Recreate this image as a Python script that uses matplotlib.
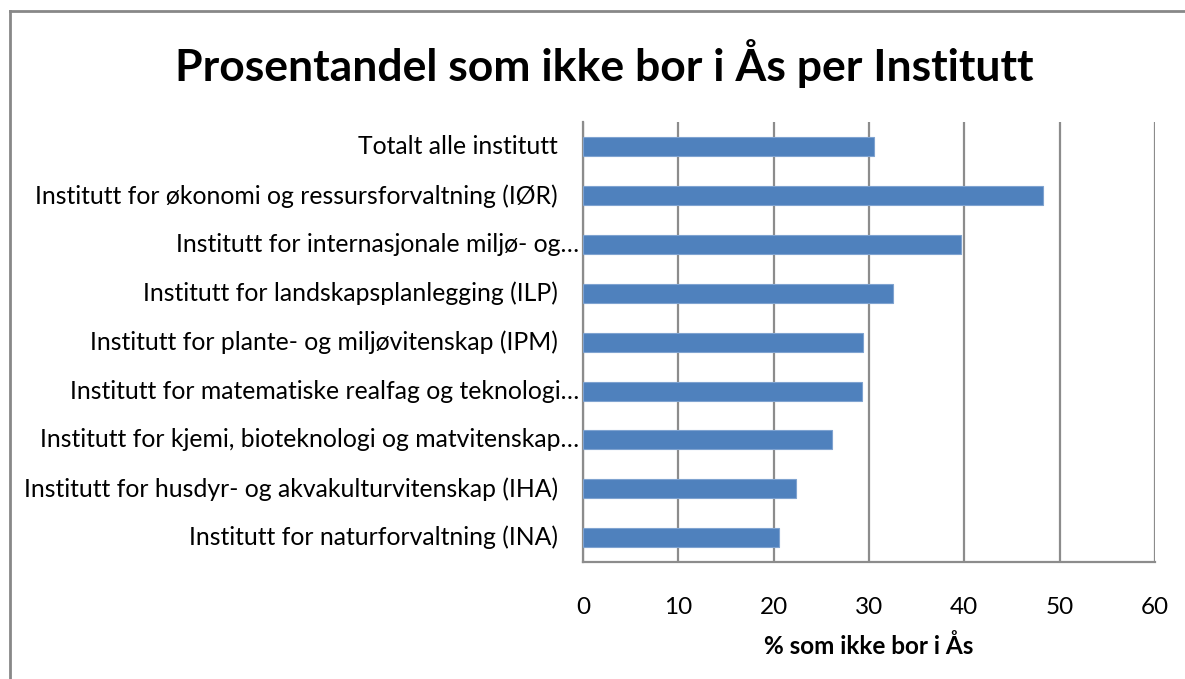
import matplotlib
matplotlib.use('Agg')
import matplotlib.pyplot as plt
from matplotlib.lines import Line2D

labels = [
    "Totalt alle institutt",
    "Institutt for økonomi og ressursforvaltning (IØR)",
    "Institutt for internasjonale miljø- og…",
    "Institutt for landskapsplanlegging (ILP)",
    "Institutt for plante- og miljøvitenskap (IPM)",
    "Institutt for matematiske realfag og teknologi…",
    "Institutt for kjemi, bioteknologi og matvitenskap…",
    "Institutt for husdyr- og akvakulturvitenskap (IHA)",
    "Institutt for naturforvaltning (INA)",
]
values = [30.5, 48.3, 39.7, 32.5, 29.4, 29.3, 26.1, 22.3, 20.6]
xticks = [0, 10, 20, 30, 40, 50, 60]

FONT = 'Lato'
BAR = '#4F81BD'
GRID = '#8c8c8c'

fig = plt.figure(figsize=(11.85, 6.79), dpi=100)
fig.patch.set_facecolor('white')
ax = fig.add_axes([583 / 1185, 1 - 562 / 679, 572 / 1185, 439.5 / 679])

ypos = list(range(len(labels)))
ax.barh(ypos, values, height=0.39, color=BAR, edgecolor='#7fa3d0', linewidth=0.8, zorder=3)
ax.set_ylim(len(labels) - 0.5, -0.5)
ax.set_xlim(0, 60)
ax.set_xticks(xticks)
ax.set_xticklabels([str(t) for t in xticks], fontsize=17.5, family=FONT)
ax.tick_params(axis='x', length=0, pad=25)
ax.set_yticks([])
ax.grid(axis='x', color=GRID, linewidth=1.6, zorder=0)

for s in ['top', 'right']:
    ax.spines[s].set_visible(False)
ax.spines['left'].set_color(GRID)
ax.spines['left'].set_linewidth(1.6)
ax.spines['bottom'].set_color(GRID)
ax.spines['bottom'].set_linewidth(1.6)

# category labels, ones cut with an ellipsis reach a bit closer to the axis
for y, lab in zip(ypos, labels):
    off = -0.006 if lab.endswith('…') else -0.044
    ax.text(off, y, lab, transform=ax.get_yaxis_transform(), ha='right', va='center',
            fontsize=17.8, family=FONT)

ax.set_xlabel('% som ikke bor i Ås', fontsize=17.5, family=FONT, fontweight='bold', labelpad=12)

fig.text(604 / 1185, 1 - 64 / 679, 'Prosentandel som ikke bor i Ås per Institutt',
         ha='center', va='center', fontsize=32, family=FONT, fontweight='bold')

# outer chart border (cropped at right and bottom)
fig.add_artist(Line2D([9.5 / 1185, 9.5 / 1185], [0, 1 - 11 / 679], color='#888888', linewidth=2))
fig.add_artist(Line2D([9.5 / 1185, 1], [1 - 11 / 679, 1 - 11 / 679], color='#888888', linewidth=2))

plt.savefig('out.png', dpi=100, facecolor='white')
